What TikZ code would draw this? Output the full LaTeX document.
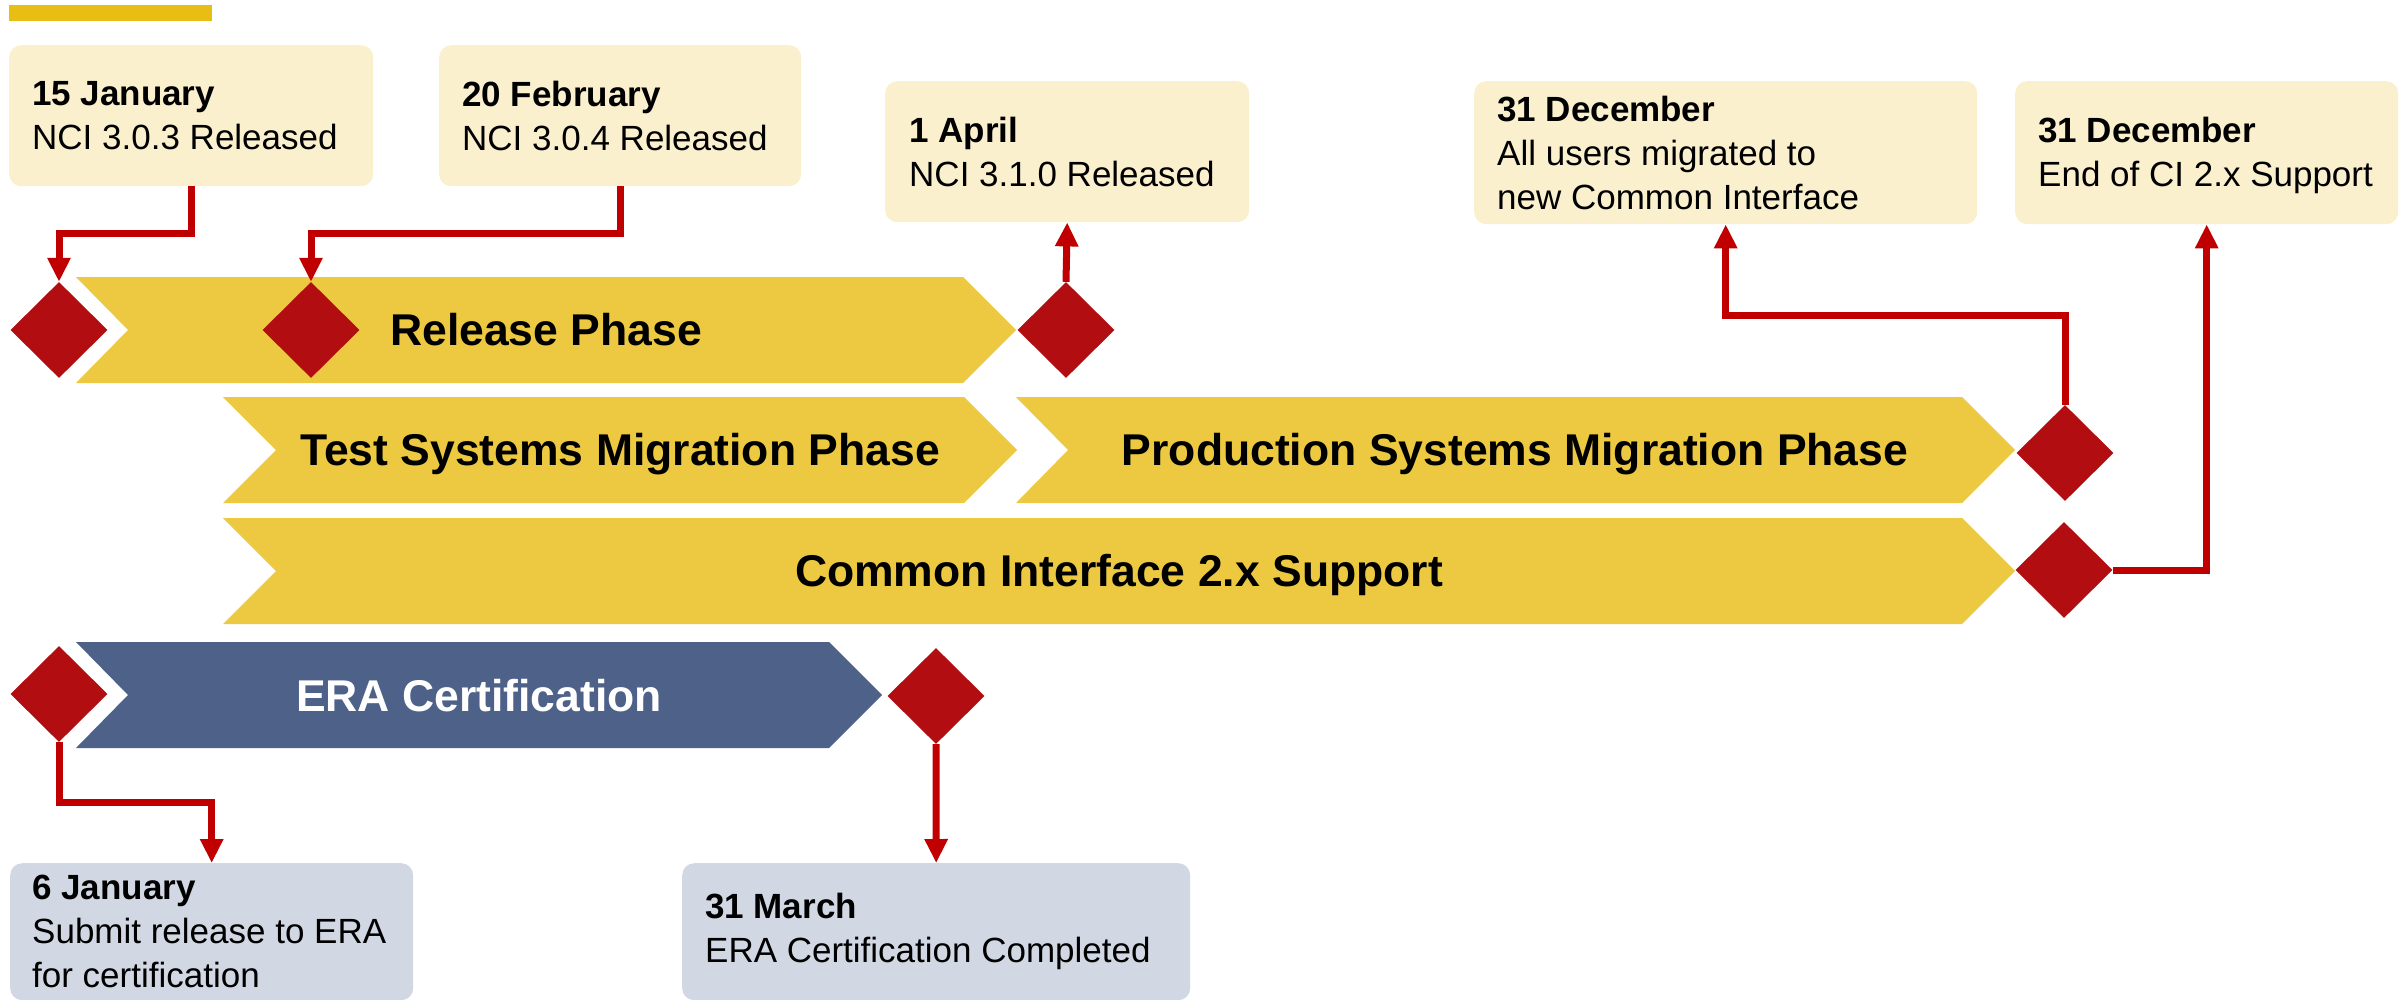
\documentclass[tikz,border=0pt]{standalone}
\usepackage{fontspec}
\setmainfont{Liberation Sans}
\usetikzlibrary{shapes.geometric,arrows.meta,calc}
\definecolor{barY}{HTML}{ECC940}
\definecolor{stripY}{HTML}{E8BD14}
\definecolor{boxY}{HTML}{FAF0CD}
\definecolor{boxB}{HTML}{D2D8E3}
\definecolor{msR}{HTML}{B20E12}
\definecolor{arrR}{HTML}{C00000}
\definecolor{eraB}{HTML}{4D6189}
\begin{document}
\begin{tikzpicture}[x=1pt,y=-1pt,
  box/.style={rounded corners=12pt, inner sep=0pt, anchor=north west},
  ybox/.style={box, fill=boxY},
  bbox/.style={box, fill=boxB},
  boxtext/.style={anchor=west, align=left, inner sep=0pt, font=\fontsize{35}{44}\selectfont},
  ms/.style={diamond, aspect=1, fill=msR, minimum width=97pt, minimum height=96pt, inner sep=0pt},
  barlabel/.style={anchor=base, font=\fontsize{44.5}{50}\selectfont\bfseries},
  arr/.style={draw=arrR, line width=7pt, -{Triangle[width=22pt,length=24pt]}}
]
\useasboundingbox (0,0) rectangle (2407,999);

% top strip
\fill[stripY] (9,5) rectangle (212,21);

% chevron bars
\fill[barY] (76,277) -- (963,277) -- (1016,330) -- (963,383) -- (76,383) -- (128,330) -- cycle;
\node[barlabel] (release) at (546,345) {Release Phase};

\fill[barY] (223,397) -- (964,397) -- (1017,450) -- (964,503) -- (223,503) -- (276,450) -- cycle;
\node[barlabel] (test) at (620,465) {Test Systems Migration Phase};

\fill[barY] (1016,397) -- (1962,397) -- (2015,450) -- (1962,503) -- (1016,503) -- (1068,450) -- cycle;
\node[barlabel] (prod) at (1515,465) {Production Systems Migration Phase};

\fill[barY] (223,518) -- (1962,518) -- (2015,571) -- (1962,624) -- (223,624) -- (276,571) -- cycle;
\node[barlabel] (ci) at (1119,586) {Common Interface 2.x Support};

\fill[eraB] (76,642) -- (829,642) -- (882,695) -- (829,748) -- (76,748) -- (128,695) -- cycle;
\node[barlabel, text=white] (era) at (479,711) {ERA Certification};

% milestones
\node[ms] (d1) at (59,330) {};
\node[ms] (d2) at (311,330) {};
\node[ms] (d3) at (1066,330) {};
\node[ms] (d4) at (2065,453) {};
\node[ms] (d5) at (2064,570) {};
\node[ms] (d6) at (59,694) {};
\node[ms] (d7) at (936,696) {};

% boxes
\node[ybox, minimum width=364pt, minimum height=141pt] (b1) at (9,45) {};
\node[boxtext] (b1t) at ([xshift=23pt]b1.west) {\textbf{15 January}\\NCI 3.0.3 Released};
\node[ybox, minimum width=362pt, minimum height=141pt] (b2) at (439,45) {};
\node[boxtext] (b2t) at ([xshift=23pt]b2.west) {\textbf{20 February}\\NCI 3.0.4 Released};
\node[ybox, minimum width=364pt, minimum height=141pt] (b3) at (885,81) {};
\node[boxtext] (b3t) at ([xshift=24pt]b3.west) {\textbf{1 April}\\NCI 3.1.0 Released};
\node[ybox, minimum width=503pt, minimum height=143pt] (b4) at (1474,81) {};
\node[boxtext] (b4t) at ([xshift=23pt]b4.west) {\textbf{31 December}\\All users migrated to\\new Common Interface};
\node[ybox, minimum width=383pt, minimum height=143pt] (b5) at (2015,81) {};
\node[boxtext] (b5t) at ([xshift=23pt,yshift=-3pt]b5.west) {\textbf{31 December}\\End of CI 2.x Support};
\node[bbox, minimum width=403pt, minimum height=137pt] (b6) at (10,863) {};
\node[boxtext] (b6t) at ([xshift=22pt]b6.west) {\textbf{6 January}\\Submit release to ERA\\for certification};
\node[bbox, minimum width=508pt, minimum height=137pt] (b7) at (682,863) {};
\node[boxtext] (b7t) at ([xshift=23pt]b7.west) {\textbf{31 March}\\ERA Certification Completed};

% connectors
\draw[arr] (b1.south) -- (b1.south |- 0,233) -| (d1.north);
\draw[arr] (b2.south) -- (b2.south |- 0,233) -| (d2.north);
\draw[arr] (d3.north) -- (b3.south);
\draw[arr] (d4.north) -- (d4.north |- 0,315) -| (b4.south);
\draw[arr] (d5.east) -| (b5.south);
\draw[arr] (d6.south) -- (d6.south |- 0,802) -| (b6.north);
\draw[arr] (d7.south) -- (b7.north);
\end{tikzpicture}
\end{document}
